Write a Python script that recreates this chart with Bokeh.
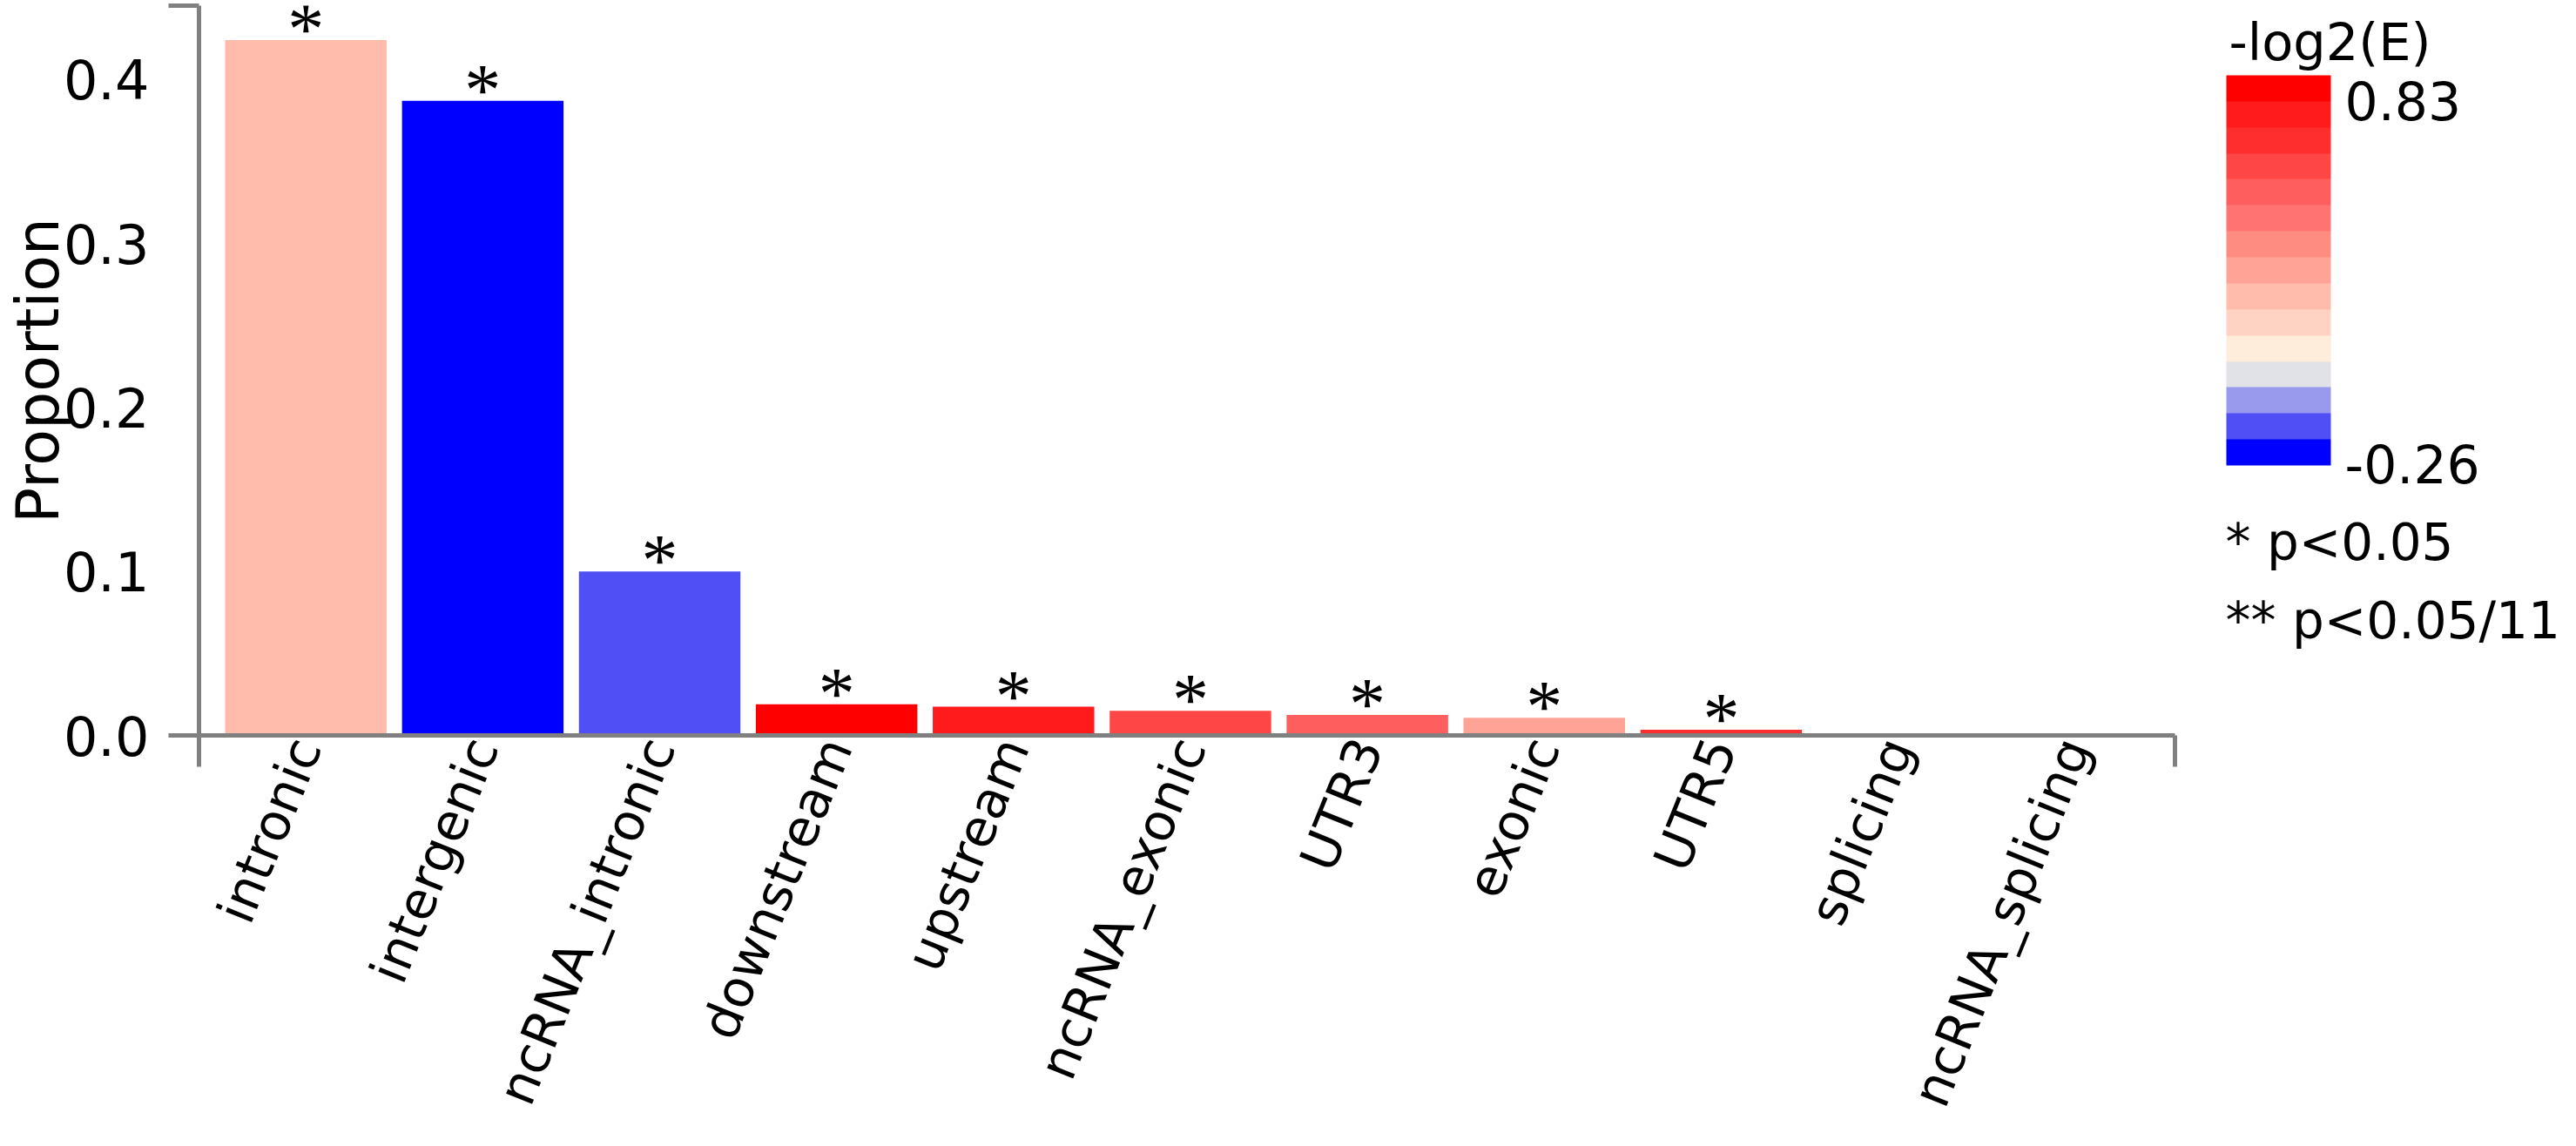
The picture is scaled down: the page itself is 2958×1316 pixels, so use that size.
import math
from bokeh.plotting import figure
from bokeh.models import (Range1d, FixedTicker, LinearColorMapper, ColorBar, Label,
                          LabelSet, ColumnDataSource)
from bokeh.layouts import row
from bokeh.transform import transform
from bokeh.embed import file_html
from bokeh.resources import INLINE

# ---------------- data ----------------
categories = ["intronic", "intergenic", "ncRNA_intronic", "downstream", "upstream",
              "ncRNA_exonic", "UTR3", "exonic", "UTR5", "splicing", "ncRNA_splicing"]
proportion = [0.424, 0.387, 0.100, 0.019, 0.0175, 0.015, 0.0125, 0.0107, 0.0035, 0.0, 0.0]
neg_log2_e = [0.21, -0.26, -0.15, 0.83, 0.75, 0.58, 0.50, 0.29, 0.65, 0.0, 0.0]
significance = ["*", "*", "*", "*", "*", "*", "*", "*", "*", "", ""]

y_ticks = [0.0, 0.1, 0.2, 0.3, 0.4]
y_tick_labels = ["0.0", "0.1", "0.2", "0.3", "0.4"]

palette = ["#0000FF", "#4F4FF5", "#9999EE", "#E1E2E8", "#FFEDDB", "#FFD3C3", "#FFBBAC",
           "#FFA397", "#FF8C80", "#FF7373", "#FF5E5E", "#FF4646", "#FF2E2E", "#FF1B1B",
           "#FF0000"]
cbar_low, cbar_high = -0.26, 0.83
cbar_labels = ["-0.26", "0.83"]
cbar_title = "-log2(E)"
legend_lines = ["* p<0.05", "** p<0.05/11"]
y_title = "Proportion"

# ---------------- style ----------------
FONT = "DejaVu Sans"
AXIS_COLOR = "#808080"
AXIS_W = 5

n = len(categories)
x_idx = list(range(n))
x_start, x_end = -0.604, (n - 1) + 0.565
y_end = 0.445

p = figure(width=2507, height=1300,
           x_range=Range1d(x_start, x_end), y_range=Range1d(0, y_end),
           output_backend="svg", toolbar_location=None,
           min_border_left=222, min_border_right=10,
           min_border_top=6, min_border_bottom=456)
p.outline_line_color = None
p.grid.visible = False

xa = p.xaxis[0]
xa.ticker = FixedTicker(ticks=x_idx, minor_ticks=[x_start, x_end])
xa.major_label_overrides = {i: c for i, c in zip(x_idx, categories)}
xa.major_label_orientation = math.radians(68)
xa.major_tick_out = 0
xa.major_tick_in = 0
xa.minor_tick_out = 36
xa.minor_tick_in = 0
xa.minor_tick_line_color = AXIS_COLOR
xa.minor_tick_line_width = AXIS_W
xa.axis_line_color = AXIS_COLOR
xa.axis_line_width = AXIS_W
xa.major_label_text_font = FONT
xa.major_label_text_font_size = "59px"
xa.major_label_text_color = "black"
xa.major_label_standoff = -30

ya = p.yaxis[0]
ya.ticker = FixedTicker(ticks=y_ticks, minor_ticks=[0.0, y_end])
ya.major_label_overrides = {t: s for t, s in zip(y_ticks, y_tick_labels)}
ya.major_tick_out = 0
ya.major_tick_in = 0
ya.minor_tick_out = 35
ya.minor_tick_in = 0
ya.minor_tick_line_color = AXIS_COLOR
ya.minor_tick_line_width = AXIS_W
ya.axis_line_color = AXIS_COLOR
ya.axis_line_width = AXIS_W
ya.major_label_text_font = FONT
ya.major_label_text_font_size = "62px"
ya.major_label_text_color = "black"
ya.major_label_standoff = 22
ya.axis_label = y_title
ya.axis_label_text_font = FONT
ya.axis_label_text_font_size = "68px"
ya.axis_label_text_font_style = "normal"
ya.axis_label_text_color = "black"
ya.axis_label_standoff = -13

mapper = LinearColorMapper(palette=palette, low=cbar_low, high=cbar_high)

src = ColumnDataSource(dict(x=x_idx, top=proportion, val=neg_log2_e,
                            sig=significance, cat=categories))
p.vbar(x="x", top="top", bottom=0, width=0.913, source=src,
       fill_color=transform("val", mapper), line_color=None)
p.add_layout(LabelSet(x="x", y="top", text="sig", source=src, text_align="center",
                      text_baseline="alphabetic", y_offset=-16, text_font=FONT,
                      text_font_size="84px", text_color="black"))

# ---------------- legend panel ----------------
q = figure(width=435, height=1300, x_range=Range1d(0, 435), y_range=Range1d(844, 6),
           output_backend="svg", toolbar_location=None,
           min_border_left=0, min_border_right=0,
           min_border_top=6, min_border_bottom=456,
           x_axis_location=None, y_axis_location=None)
q.outline_line_color = None
q.grid.visible = False

cb_ticks = [cbar_low + 0.005, cbar_high - 0.07]
cb = ColorBar(color_mapper=mapper, orientation="vertical", width=120, height=448,
              location=(49, 310), padding=0,
              ticker=FixedTicker(ticks=cb_ticks, minor_ticks=[]),
              major_label_overrides={t: s for t, s in zip(cb_ticks, cbar_labels)},
              major_label_text_font=FONT, major_label_text_font_size="60px",
              major_label_text_color="black", label_standoff=16,
              major_tick_line_color=None, minor_tick_line_color=None,
              bar_line_color=None, border_line_color=None,
              background_fill_color=None)
q.add_layout(cb, "center")

q.add_layout(Label(x=52, y=48, text=cbar_title, text_font=FONT, text_font_size="59px",
                   text_baseline="alphabetic", text_color="black"))
for txt, yy in zip(legend_lines, [622, 712]):
    q.add_layout(Label(x=48, y=yy, text=txt, text_font=FONT, text_font_size="58px",
                       text_baseline="alphabetic", text_color="black"))

layout = row(p, q)
open("out.html", "w").write(file_html(layout, INLINE))
